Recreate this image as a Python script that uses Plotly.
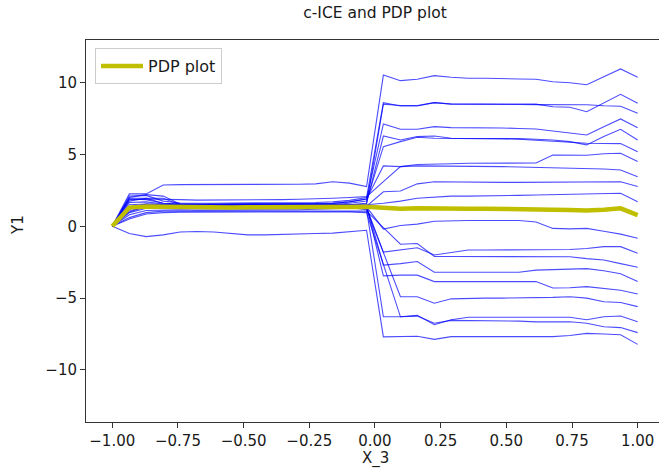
import plotly.graph_objects as go

x_grid = [-1.0, -0.935, -0.871, -0.806, -0.742, -0.677, -0.613, -0.548, -0.484, -0.419,
          -0.355, -0.29, -0.226, -0.161, -0.097, -0.032, 0.032, 0.097, 0.161, 0.226,
          0.29, 0.355, 0.419, 0.484, 0.548, 0.613, 0.677, 0.742, 0.806, 0.871, 0.935, 1.0]

ice_a = [0, 2.25, 2.25, 2.87, 2.9, 2.9, 2.88, 2.88, 2.9, 2.9, 2.9, 2.92, 2.95, 3.1, 3.0, 2.76,
         10.52, 10.13, 10.23, 10.48, 10.37, 10.3, 10.3, 10.25, 10.25, 10.23, 10.06, 9.99, 9.85, 10.41, 10.95, 10.37]
ice_b = [0, 2.1, 2.15, 1.75, 1.62, 1.6, 1.6, 1.62, 1.62, 1.6, 1.6, 1.62, 1.65, 1.7, 1.8, 2.0,
         8.6, 8.37, 8.37, 8.6, 8.51, 8.51, 8.51, 8.5, 8.5, 8.5, 8.32, 8.28, 7.97, 8.56, 9.18, 8.56]
ice_c = [0, 1.0, 1.4, 1.45, 1.4, 1.4, 1.38, 1.4, 1.42, 1.42, 1.4, 1.4, 1.42, 1.45, 1.5, 1.55,
         8.5, 8.4, 8.4, 8.6, 8.5, 8.48, 8.48, 8.47, 8.47, 8.46, 8.45, 8.45, 8.45, 8.38, 8.35, 7.86]
ice_d = [0, 2.0, 2.2, 2.1, 1.55, 1.5, 1.5, 1.52, 1.5, 1.52, 1.55, 1.55, 1.55, 1.6, 1.7, 1.9,
         7.12, 6.75, 6.75, 6.93, 6.86, 6.86, 6.86, 6.84, 6.8, 6.77, 6.63, 6.51, 6.35, 6.93, 7.47, 6.86]
ice_e = [0, 1.3, 1.55, 1.5, 1.5, 1.48, 1.45, 1.45, 1.48, 1.5, 1.5, 1.5, 1.5, 1.55, 1.5, 1.6,
         6.28, 6.0, 6.24, 6.28, 6.12, 6.12, 6.12, 6.1, 6.1, 6.05, 6.0, 5.89, 5.66, 6.24, 6.75, 6.0]
ice_f = [0, 1.75, 1.95, 1.95, 1.5, 1.45, 1.45, 1.45, 1.45, 1.48, 1.48, 1.5, 1.5, 1.52, 1.6, 1.75,
         5.54, 5.89, 6.19, 6.12, 6.12, 6.1, 6.1, 6.08, 6.05, 6.0, 5.95, 5.85, 5.78, 5.75, 5.75, 5.19]
ice_g = [0, 1.85, 1.9, 1.85, 1.85, 1.82, 1.82, 1.85, 1.85, 1.85, 1.85, 1.88, 1.9, 1.95, 2.0, 2.06,
         3.1, 4.15, 4.3, 4.35, 4.35, 4.38, 4.38, 4.38, 4.38, 4.4, 4.96, 4.96, 4.94, 5.05, 5.08, 4.5]
ice_h = [0, 1.9, 1.85, 1.6, 1.55, 1.55, 1.55, 1.55, 1.58, 1.58, 1.55, 1.55, 1.58, 1.6, 1.7, 1.9,
         4.2, 4.15, 4.2, 4.2, 4.18, 4.15, 4.15, 4.15, 4.12, 4.1, 4.08, 4.05, 4.0, 3.98, 3.92, 3.45]
ice_i = [0, 0.8, 1.1, 1.15, 1.15, 1.12, 1.12, 1.15, 1.15, 1.15, 1.15, 1.15, 1.18, 1.2, 1.25, 1.4,
         2.4, 2.45, 2.95, 3.1, 3.08, 3.05, 3.05, 3.05, 3.05, 3.05, 3.05, 3.08, 3.1, 3.1, 3.1, 2.76]
ice_j = [0, 1.5, 1.55, 1.5, 1.45, 1.45, 1.45, 1.45, 1.45, 1.45, 1.45, 1.45, 1.48, 1.5, 1.5, 1.5,
         1.6, 1.75, 1.95, 2.05, 2.1, 2.1, 2.1, 2.12, 2.15, 2.18, 2.2, 2.22, 2.25, 2.28, 2.3, 1.71]
ice_k = [0, 1.2, 1.4, 1.35, 1.35, 1.32, 1.32, 1.35, 1.35, 1.35, 1.35, 1.35, 1.35, 1.38, 1.45, 1.35,
         -0.2, 0.05, 0.15, 0.35, 0.4, 0.4, 0.4, 0.4, 0.4, 0.3, -0.15, -0.18, -0.15, -0.35, -0.55, -0.84]
ice_l = [0, 1.95, 1.95, 1.6, 1.55, 1.5, 1.5, 1.52, 1.52, 1.52, 1.5, 1.5, 1.52, 1.55, 1.45, 1.3,
         -1.8, -1.65, -1.5, -2.0, -1.8, -1.65, -1.65, -1.65, -1.65, -1.65, -1.65, -1.62, -1.55, -1.42, -1.42, -1.88]
ice_m = [0, 0.6, 0.95, 1.05, 1.05, 1.05, 1.05, 1.05, 1.08, 1.08, 1.08, 1.05, 1.05, 1.1, 1.1, 1.05,
         -0.1, -1.25, -1.2, -2.1, -2.1, -2.1, -2.1, -2.1, -2.1, -2.1, -2.1, -2.12, -2.25, -2.35, -2.6, -2.85]
ice_n = [0, 1.65, 1.7, 1.55, 1.5, 1.5, 1.5, 1.5, 1.5, 1.52, 1.52, 1.52, 1.52, 1.55, 1.5, 1.45,
         -2.7, -2.6, -2.45, -3.2, -3.2, -3.2, -3.2, -3.2, -3.2, -3.05, -3.0, -3.0, -2.95, -3.1, -3.3, -3.85]
ice_o = [0, 1.35, 1.5, 1.45, 1.45, 1.42, 1.42, 1.42, 1.45, 1.45, 1.45, 1.45, 1.45, 1.48, 1.5, 1.4,
         -3.45, -3.4, -3.4, -3.85, -3.85, -3.85, -3.85, -3.85, -3.85, -3.85, -4.3, -4.28, -4.2, -4.35, -4.45, -4.71]
ice_p = [0, 1.1, 1.3, 1.28, 1.28, 1.25, 1.25, 1.25, 1.28, 1.28, 1.28, 1.28, 1.28, 1.3, 1.3, 1.2,
         -1.85, -4.9, -4.9, -5.36, -5.05, -5.0, -5.0, -5.0, -5.0, -5.0, -4.95, -4.9, -5.0, -5.25, -5.3, -5.59]
ice_q = [0, 0.95, 1.25, 1.3, 1.3, 1.3, 1.28, 1.28, 1.3, 1.3, 1.3, 1.3, 1.3, 1.32, 1.3, 1.15,
         -6.3, -6.3, -6.2, -6.85, -6.5, -6.33, -6.33, -6.33, -6.33, -6.33, -6.33, -6.33, -6.5, -6.3, -6.24, -6.64]
ice_r = [0, 0.5, 0.85, 0.95, 0.98, 0.98, 0.98, 1.0, 1.0, 1.0, 1.0, 1.0, 1.0, 1.02, 1.0, 0.95,
         -2.7, -6.3, -6.25, -6.75, -6.55, -6.55, -6.6, -6.6, -6.6, -6.65, -6.65, -6.64, -6.75, -6.99, -7.05, -7.4]
ice_s = [0, -0.5, -0.72, -0.6, -0.4, -0.37, -0.4, -0.5, -0.6, -0.6, -0.55, -0.5, -0.5, -0.48, -0.4, -0.28,
         -7.7, -7.68, -7.65, -7.87, -7.68, -7.68, -7.68, -7.68, -7.68, -7.68, -7.68, -7.6, -7.45, -7.5, -7.55, -8.22]

ice_curves = [ice_a, ice_b, ice_c, ice_d, ice_e, ice_f, ice_g, ice_h, ice_i, ice_j,
              ice_k, ice_l, ice_m, ice_n, ice_o, ice_p, ice_q, ice_r, ice_s]

pdp = [0, 1.3, 1.38, 1.35, 1.32, 1.3, 1.3, 1.3, 1.32, 1.32, 1.32, 1.32, 1.33, 1.36, 1.35, 1.36,
       1.28, 1.22, 1.25, 1.22, 1.22, 1.22, 1.22, 1.22, 1.2, 1.18, 1.15, 1.13, 1.1, 1.15, 1.25, 0.78]

x_ticks = [-1.0, -0.75, -0.5, -0.25, 0.0, 0.25, 0.5, 0.75, 1.0]
y_ticks = [-10, -5, 0, 5, 10]

FONT = "DejaVu Sans"
TXT = "#1a1a1a"
W, H = 659, 468
L, R, T, B = 86, 0, 40, 46

fig = go.Figure()
for ys in ice_curves:
    fig.add_trace(go.Scatter(x=x_grid, y=ys, mode="lines",
                             line=dict(color="rgba(0,0,255,0.7)", width=1.1),
                             showlegend=False, hoverinfo="skip"))
fig.add_trace(go.Scatter(x=x_grid, y=pdp, mode="lines", name="PDP plot",
                         line=dict(color="#bfbf00", width=4.5)))

pw = W - L - R
ph = H - T - B
fig.update_layout(
    width=W, height=H,
    margin=dict(l=L, r=R, t=T, b=B, pad=0),
    plot_bgcolor="white", paper_bgcolor="white",
    font=dict(family=FONT, size=15, color=TXT),
    title=dict(text="c-ICE and PDP plot", x=375 / W, xanchor="center", xref="container",
               y=1 - 13 / H, yanchor="middle", yref="container",
               font=dict(size=15.5, color=TXT, family=FONT)),
    showlegend=True,
    legend=dict(x=(95 - L) / pw, y=1 - 8 / ph, xanchor="left", yanchor="top",
                bgcolor="rgba(255,255,255,0.85)", bordercolor="#cccccc", borderwidth=1,
                font=dict(size=16, family=FONT, color=TXT), itemwidth=42),
    xaxis=dict(range=[-1.1, -1.1 + pw / 262.7], tickvals=x_ticks, tickformat=".2f",
               showgrid=False, zeroline=False, showline=True, linecolor="#333333",
               linewidth=1, mirror=True, ticks="outside", ticklen=5, tickcolor="#333333",
               tickfont=dict(size=15, family=FONT, color=TXT)),
    yaxis=dict(range=[-13.62, 12.96], tickvals=y_ticks, showgrid=False, zeroline=False,
               showline=True, linecolor="#333333", linewidth=1, mirror=False,
               ticks="outside", ticklen=5, tickcolor="#333333",
               tickfont=dict(size=15, family=FONT, color=TXT)),
    annotations=[
        dict(text="X_3", xref="paper", yref="paper", x=(375 - L) / pw, y=-(458 - (H - B)) / ph,
             xanchor="center", yanchor="middle", showarrow=False,
             font=dict(size=15, family=FONT, color=TXT)),
        dict(text="Y1", xref="paper", yref="paper", x=(18 - L) / pw, y=((H - B) - 225) / ph,
             xanchor="center", yanchor="middle", showarrow=False, textangle=-90,
             font=dict(size=15, family=FONT, color=TXT)),
    ],
)

fig.write_html("out.html")
